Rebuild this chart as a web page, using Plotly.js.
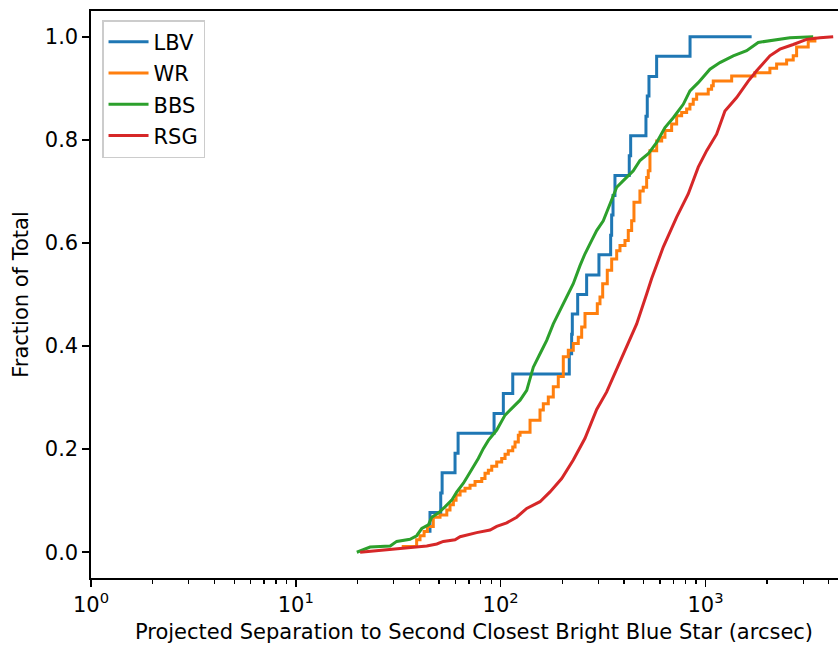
<!DOCTYPE html>
<html>
<head>
<meta charset="utf-8">
<script src="https://cdn.plot.ly/plotly-3.0.1.min.js"></script>
<style>
html, body { margin: 0; padding: 0; overflow: hidden; background: #fff; }
#chart { width: 870px; height: 646px; }
</style>
</head>
<body>
<div id="chart"></div>
<script>
// LBV cumulative distribution (step)
var lbvX = [45.2, 51.0, 51.8, 59.9, 62.0, 92.9, 103.1, 114.6, 216.4, 222.2, 223.9, 237.8, 263.0, 302.0, 344.5, 348.4, 353.8, 361.6, 424.7, 431.4, 512.3, 520, 530, 577.7, 841, 1681];
var lbvY = [0.038, 0.077, 0.115, 0.154, 0.192, 0.231, 0.269, 0.308, 0.346, 0.385, 0.423, 0.462, 0.500, 0.538, 0.577, 0.615, 0.654, 0.692, 0.731, 0.769, 0.808, 0.846, 0.885, 0.923, 0.962, 1.000];

// WR
var wrX = [32.9, 38.9, 40.4, 42.3, 43.9, 46.9, 50.6, 54.6, 56.6, 58.8, 60.6, 63.4, 67.0, 70.9, 75.0, 80.9, 83.9, 87.1, 90.5, 95.7, 101.2, 105.1, 109.0, 114.6, 117.6, 122.0, 124.4, 139.2, 155.7, 161.6, 170.9, 180.8, 191.2, 202.3, 214.0, 226.3, 239.4, 248.7, 258.2, 296.5, 305.6, 315.0, 331.7, 348.5, 368.7, 382.6, 404.7, 420.0, 436.3, 447.7, 478.8, 497.0, 516.4, 525.8, 535.9, 578.0, 611.4, 634.4, 683.9, 723.5, 765.3, 809.5, 840.1, 872.0, 906.0, 1032, 1072, 1092, 1343, 1744, 2064, 2226, 2491, 2683, 2787, 3176, 3423];
var wrY = [0.011, 0.024, 0.032, 0.040, 0.050, 0.068, 0.072, 0.082, 0.092, 0.101, 0.111, 0.119, 0.124, 0.130, 0.137, 0.143, 0.153, 0.159, 0.167, 0.175, 0.182, 0.190, 0.197, 0.204, 0.214, 0.227, 0.233, 0.256, 0.276, 0.288, 0.301, 0.321, 0.341, 0.379, 0.392, 0.405, 0.417, 0.437, 0.463, 0.482, 0.495, 0.521, 0.547, 0.569, 0.585, 0.595, 0.605, 0.624, 0.643, 0.679, 0.701, 0.708, 0.727, 0.740, 0.779, 0.798, 0.805, 0.818, 0.831, 0.847, 0.853, 0.860, 0.869, 0.879, 0.889, 0.898, 0.905, 0.914, 0.924, 0.930, 0.939, 0.947, 0.955, 0.963, 0.980, 0.992, 1.0];

// BBS
var bbsX = [19.85, 23.05, 28.9, 31.1, 36.1, 38.9, 41.2, 44.4, 46.1, 49.6, 53.5, 57.7, 61.1, 65.8, 69.6, 73.6, 77.8, 82.3, 87.1, 95.7, 105.1, 115.3, 124.4, 134.1, 144.4, 155.7, 167.9, 180.8, 195.0, 210.2, 226.3, 244.1, 258.2, 278.4, 294.4, 317.1, 342.0, 368.7, 397.1, 444.3, 478.8, 525.8, 578.0, 634.4, 696.6, 779.4, 840.1, 922.4, 1052, 1177, 1367, 1589, 1810, 2142, 2585, 3358];
var bbsY = [0.0, 0.010, 0.012, 0.021, 0.025, 0.032, 0.046, 0.053, 0.068, 0.076, 0.088, 0.101, 0.117, 0.134, 0.150, 0.166, 0.182, 0.201, 0.217, 0.237, 0.266, 0.282, 0.295, 0.314, 0.359, 0.385, 0.411, 0.443, 0.469, 0.495, 0.521, 0.556, 0.579, 0.605, 0.624, 0.643, 0.676, 0.708, 0.721, 0.740, 0.760, 0.773, 0.795, 0.824, 0.843, 0.869, 0.895, 0.911, 0.937, 0.950, 0.963, 0.973, 0.989, 0.993, 0.998, 1.0];

// RSG
var rsgX = [20.6, 26.8, 36.8, 43.6, 48.8, 52.5, 59.9, 63.4, 76.4, 88.8, 95.7, 107.1, 119.8, 134.1, 155.7, 174.2, 198.7, 226.3, 258.2, 294.4, 329.5, 368.7, 412.5, 461.6, 516.4, 546.3, 622.3, 723.5, 824.1, 922.4, 1014, 1134, 1245, 1420, 1618, 1778, 2064, 2310, 2683, 3118, 3622, 4205];
var rsgY = [0.0, 0.004, 0.008, 0.012, 0.016, 0.021, 0.024, 0.030, 0.038, 0.043, 0.050, 0.057, 0.068, 0.085, 0.098, 0.117, 0.143, 0.179, 0.221, 0.277, 0.311, 0.356, 0.398, 0.443, 0.501, 0.531, 0.592, 0.650, 0.695, 0.747, 0.779, 0.811, 0.856, 0.882, 0.914, 0.934, 0.963, 0.976, 0.985, 0.995, 0.998, 1.0];

var xTickVals = [1, 10, 100, 1000];
var xTickText = ['10<sup>0</sup>', '10<sup>1</sup>', '10<sup>2</sup>', '10<sup>3</sup>'];
var yTickVals = [0.0, 0.2, 0.4, 0.6, 0.8, 1.0];

var FONT = 'DejaVu Sans, Verdana, sans-serif';
var FS = 21;

var traces = [
  {x: lbvX, y: lbvY, name: 'LBV', mode: 'lines', line: {color: '#1f77b4', width: 3, shape: 'vh'}, legendgroup: 'a'},
  {x: wrX, y: wrY, name: 'WR', mode: 'lines', line: {color: '#ff7f0e', width: 3, shape: 'hv'}, legendgroup: 'b'},
  {x: bbsX, y: bbsY, name: 'BBS', mode: 'lines', line: {color: '#2ca02c', width: 3}, legendgroup: 'c'},
  {x: rsgX, y: rsgY, name: 'RSG', mode: 'lines', line: {color: '#d62728', width: 3}, legendgroup: 'd'}
];

var layout = {
  width: 870,
  height: 646,
  margin: {l: 91, r: 13, t: 11, b: 68},
  paper_bgcolor: '#ffffff',
  plot_bgcolor: '#ffffff',
  font: {family: FONT, size: FS, color: '#000000'},
  showlegend: true,
  legend: {
    x: 0.0144, y: 0.984, xanchor: 'left', yanchor: 'top',
    bgcolor: 'rgba(255,255,255,0.8)', bordercolor: '#cccccc', borderwidth: 1.5,
    font: {family: FONT, size: FS, color: '#000000'},
    itemwidth: 40,
    tracegroupgap: 1
  },
  xaxis: {
    type: 'log',
    range: [0, 3.74],
    tickvals: xTickVals,
    ticktext: xTickText,
    ticks: 'outside', ticklen: 7, tickwidth: 1.6, tickcolor: '#000',
    showgrid: false, zeroline: false,
    showline: true, linecolor: '#000', linewidth: 1.6, mirror: true,
    minor: {ticks: 'outside', ticklen: 4, tickwidth: 1.2, tickcolor: '#000', dtick: 'D1', showgrid: false},
    tickfont: {family: FONT, size: FS, color: '#000'},
    title: {text: 'Projected Separation to Second Closest Bright Blue Star (arcsec)', font: {family: FONT, size: FS, color: '#000'}, standoff: 8},
    automargin: false
  },
  yaxis: {
    range: [-0.05, 1.05],
    tickvals: yTickVals,
    tickformat: '.1f',
    ticks: 'outside', ticklen: 7, tickwidth: 1.6, tickcolor: '#000',
    showgrid: false, zeroline: false,
    showline: true, linecolor: '#000', linewidth: 1.6, mirror: true,
    tickfont: {family: FONT, size: FS, color: '#000'},
    title: {text: 'Fraction of Total', font: {family: FONT, size: FS, color: '#000'}, standoff: 10},
    automargin: false
  }
};

Plotly.newPlot('chart', traces, layout, {displayModeBar: false, staticPlot: true});
</script>
</body>
</html>
